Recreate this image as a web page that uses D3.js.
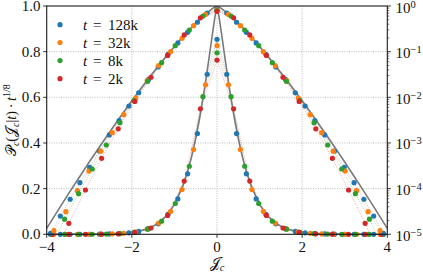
<!DOCTYPE html>
<html lang="en">
<head>
<meta charset="UTF-8">
<title>Scaled current distribution</title>
<script src="https://d3js.org/d3.v7.min.js"></script>
<style>
  body { margin: 0; background: #fff; }
</style>
</head>
<body>
<div id="chart"></div>
<script>
// values, J >= 0 half only (the distribution is symmetric)
var seriesNames  = ["128k", "32k", "8k", "2k"];
var seriesColors = ["#1f77b4", "#ff7f0e", "#2ca02c", "#d62728"];

var j128 = [0, 0.23, 0.46, 0.69, 0.92, 1.15, 1.38, 1.61, 1.84, 2.07, 2.30, 2.53, 2.76, 2.99, 3.22, 3.45, 3.68, 3.91];
var p128 = [0.854, 0.701, 0.441, 0.265, 0.155, 0.0876, 0.0461, 0.0247, 0.0126, 0.00646, 0.00309, 0.0015, 6.67e-4, 2.93e-4, 1.35e-4, 5.85e-5, 2.51e-5, 1.05e-5];

var j32 = [0, 0.27, 0.55, 0.82, 1.09, 1.37, 1.64, 1.91, 2.19, 2.46, 2.73, 3.01, 3.28, 3.55, 3.83];
var p32 = [0.826, 0.655, 0.371, 0.196, 0.100, 0.0493, 0.0232, 0.00966, 0.00417, 0.00168, 6.61e-4, 2.43e-4, 9.02e-5, 3.13e-5, 1.20e-5];

var j8 = [0, 0.33, 0.65, 0.98, 1.30, 1.63, 1.95, 2.28, 2.60, 2.93, 3.25, 3.58, 3.90];
var p8 = [0.795, 0.603, 0.298, 0.135, 0.0575, 0.0224, 0.00851, 0.00278, 9.04e-4, 2.69e-4, 7.76e-5, 2.14e-5, 5.4e-6];

var j2 = [0, 0.39, 0.77, 1.16, 1.55, 1.93, 2.32, 2.71, 3.09, 3.48, 3.87];
var p2 = [0.763, 0.550, 0.233, 0.0828, 0.0275, 0.00813, 0.00204, 4.61e-4, 9.33e-5, 1.74e-5, 2.7e-6];

// grey limiting curve
var theoryJ = [0, 0.05, 0.1, 0.2, 0.3, 0.4, 0.5, 0.6, 0.7, 0.8, 1.0, 1.2, 1.4, 1.6, 1.8, 2.0, 2.25, 2.5, 2.75, 3.0, 3.25, 3.5, 3.75, 4.0];
var theoryP = [1, 0.950, 0.887, 0.755, 0.629, 0.517, 0.420, 0.337, 0.269, 0.213, 0.130, 0.0781, 0.0458, 0.0264, 0.0150, 0.00839, 0.00399, 0.00186, 8.48e-4, 3.82e-4, 1.69e-4, 7.38e-5, 3.18e-5, 1.35e-5];

var xTicks = [-4, -2, 0, 2, 4];
var xTickLabels = ["\u22124", "\u22122", "0", "2", "4"];
var yTicks = [0, 0.2, 0.4, 0.6, 0.8, 1.0];
var logExps = [0, -1, -2, -3, -4, -5];

// make the full curve from the J >= 0 half
function mirror(js, ps) {
  var out = [];
  for (var i = js.length - 1; i > 0; i--) out.push({J: -js[i], P: ps[i]});
  for (var k = 0; k < js.length; k++) out.push({J: js[k], P: ps[k]});
  return out;
}

var series = [
  mirror(j128, p128),
  mirror(j32, p32),
  mirror(j8, p8),
  mirror(j2, p2)
];
var theory = mirror(theoryJ, theoryP);

var W = 423, H = 272;
var plotL = 46.7, plotR = 387.3, plotT = 6, plotB = 234.3;
var FONT = "'Liberation Serif', 'DejaVu Serif', serif";

var x = d3.scaleLinear().domain([-4, 4]).range([plotL, plotR]);
var yLin = d3.scaleLinear().domain([0, 1]).range([plotB, plotT]);
var yLog = d3.scaleLog().domain([1e-5, 1]).range([plotB, plotT]);

var svg = d3.select("#chart").append("svg")
  .attr("width", W)
  .attr("height", H)
  .attr("font-family", FONT);

svg.append("clipPath").attr("id", "plotClip")
  .append("rect")
  .attr("x", plotL).attr("y", plotT)
  .attr("width", plotR - plotL).attr("height", plotB - plotT);

// grid
var grid = svg.append("g").attr("stroke", "#ababab").attr("stroke-width", 0.9)
  .attr("stroke-dasharray", "0.9,1.5");
grid.selectAll(".gx").data([-2, 0, 2]).enter().append("line")
  .attr("x1", function(d){ return x(d); }).attr("x2", function(d){ return x(d); })
  .attr("y1", plotT).attr("y2", plotB);
grid.selectAll(".gy").data([0.2, 0.4, 0.6, 0.8]).enter().append("line")
  .attr("x1", plotL).attr("x2", plotR)
  .attr("y1", function(d){ return yLin(d); }).attr("y2", function(d){ return yLin(d); });

var plot = svg.append("g").attr("clip-path", "url(#plotClip)");

function drawLayer(yScale, inDomain) {
  var line = d3.line()
    .x(function(d){ return x(d.J); })
    .y(function(d){ return yScale(d.P); });

  series.forEach(function(s, i) {
    plot.append("path")
      .attr("d", line(s))
      .attr("fill", "none")
      .attr("stroke", seriesColors[i])
      .attr("stroke-width", 0.75)
      .attr("stroke-dasharray", "0.8,1.3")
      .attr("opacity", 0.6);
  });

  plot.append("path")
    .attr("d", line(theory))
    .attr("fill", "none")
    .attr("stroke", "#7a7a7a")
    .attr("stroke-width", 1.6);

  series.forEach(function(s, i) {
    svg.append("g").selectAll("circle")
      .data(s.filter(inDomain))
      .enter().append("circle")
      .attr("cx", function(d){ return x(d.J); })
      .attr("cy", function(d){ return yScale(d.P); })
      .attr("r", 2.6)
      .attr("fill", seriesColors[i]);
  });
}

// linear (left axis) then logarithmic (right axis)
drawLayer(yLin, function(d){ return Math.abs(d.J) <= 4; });
drawLayer(yLog, function(d){ return Math.abs(d.J) <= 4 && d.P >= 1e-5; });

// frame
svg.append("rect")
  .attr("x", plotL).attr("y", plotT)
  .attr("width", plotR - plotL).attr("height", plotB - plotT)
  .attr("fill", "none").attr("stroke", "#1a1a1a").attr("stroke-width", 1.1);

var ax = svg.append("g");

// x ticks
xTicks.forEach(function(t, i) {
  ax.append("line").attr("x1", x(t)).attr("x2", x(t)).attr("y1", plotB).attr("y2", plotB + 3.5)
    .attr("stroke", "#1a1a1a").attr("stroke-width", 0.9);
  ax.append("text").attr("x", x(t)).attr("y", 251.5).attr("text-anchor", "middle")
    .attr("font-size", 15).attr("fill", "#111").text(xTickLabels[i]);
});

// left ticks
yTicks.forEach(function(t) {
  ax.append("line").attr("x1", plotL - 3.5).attr("x2", plotL).attr("y1", yLin(t)).attr("y2", yLin(t))
    .attr("stroke", "#1a1a1a").attr("stroke-width", 0.9);
  ax.append("text").attr("x", 40.5).attr("y", yLin(t) + 5).attr("text-anchor", "end")
    .attr("font-size", 15).attr("fill", "#111").text(t.toFixed(1));
});

// right log ticks with minor ticks
logExps.forEach(function(e) {
  var v = Math.pow(10, e);
  ax.append("line").attr("x1", plotR).attr("x2", plotR + 3.5).attr("y1", yLog(v)).attr("y2", yLog(v))
    .attr("stroke", "#1a1a1a").attr("stroke-width", 0.9);
  var lab = ax.append("text").attr("x", 395.5).attr("y", yLog(v) + 6.5).attr("font-size", 15).attr("fill", "#111");
  lab.append("tspan").text("10");
  lab.append("tspan").attr("dy", -5).attr("font-size", 10.5).text(e === 0 ? "0" : "\u2212" + (-e));
  if (e > -5) {
    for (var m = 2; m <= 9; m++) {
      var mv = v / 10 * m;
      ax.append("line").attr("x1", plotR).attr("x2", plotR + 2).attr("y1", yLog(mv)).attr("y2", yLog(mv))
        .attr("stroke", "#1a1a1a").attr("stroke-width", 0.6);
    }
  }
});

// axis labels
var xl = svg.append("text")
  .attr("x", x(0)).attr("y", 268).attr("text-anchor", "middle").attr("font-size", 15).attr("fill", "#111");
xl.append("tspan").text("\uD835\uDCA5");
xl.append("tspan").attr("dy", 3).attr("font-size", 10.5).attr("font-style", "italic").text("c");

var yl = svg.append("text")
  .attr("transform", "translate(15.5," + ((plotT + plotB) / 2) + ") rotate(-90)")
  .attr("text-anchor", "middle").attr("font-size", 14).attr("fill", "#111");
yl.append("tspan").text("\uD835\uDCAB");
yl.append("tspan").attr("dy", 3).attr("font-size", 10).attr("font-style", "italic").text("c");
yl.append("tspan").attr("dy", -3).text("(\uD835\uDCA5");
yl.append("tspan").attr("dy", 3).attr("font-size", 10).attr("font-style", "italic").text("c");
yl.append("tspan").attr("dy", -3).text("|");
yl.append("tspan").attr("font-style", "italic").text("t");
yl.append("tspan").text(")\u2009\u00B7\u2009");
yl.append("tspan").attr("font-style", "italic").text("t");
yl.append("tspan").attr("dy", -6).attr("font-size", 10).text("1/8");

// legend
var legY = [24.7, 42.5, 60.6, 78.7];
seriesNames.forEach(function(name, i) {
  svg.append("circle").attr("cx", 60).attr("cy", legY[i]).attr("r", 2.6).attr("fill", seriesColors[i]);
  var lt = svg.append("text").attr("x", 83).attr("y", legY[i] + 5).attr("font-size", 15).attr("fill", "#111");
  lt.append("tspan").attr("font-style", "italic").text("t");
  lt.append("tspan").attr("x", 93).text("=");
  lt.append("tspan").attr("x", 108).text(name);
});
</script>
</body>
</html>
